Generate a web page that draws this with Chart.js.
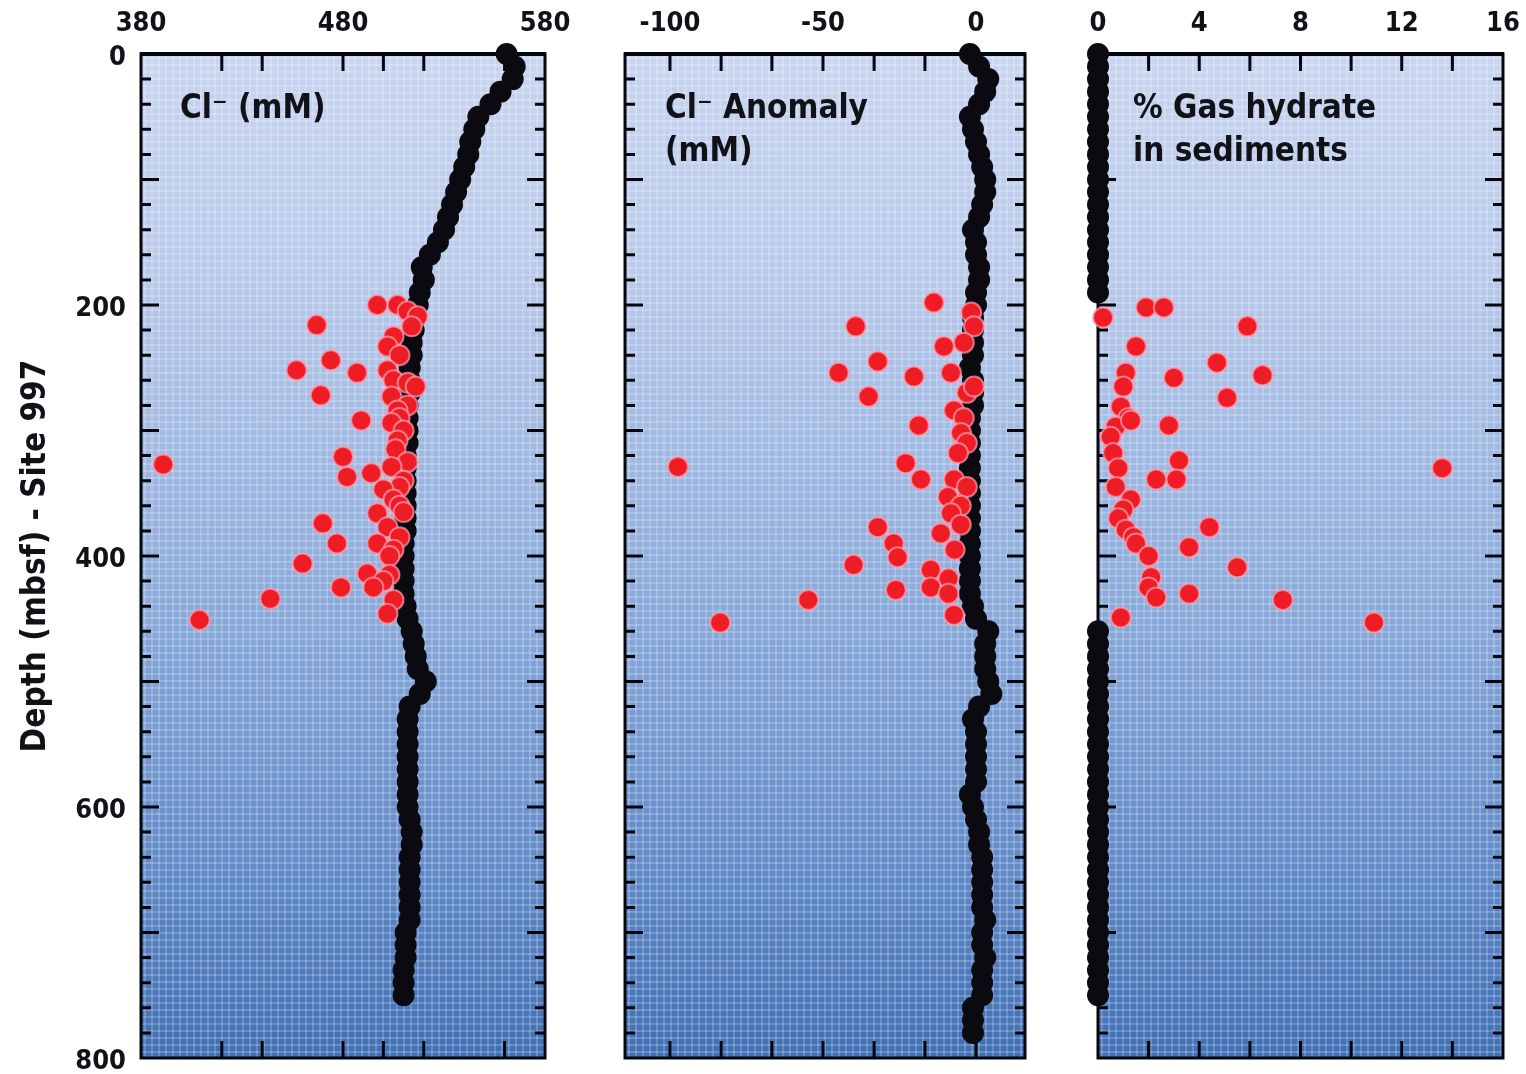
<!DOCTYPE html>
<html>
<head>
<meta charset="utf-8">
<script src="https://cdn.jsdelivr.net/npm/chart.js@4.4.1/dist/chart.umd.min.js"></script>
<style>
  html, body { margin: 0; padding: 0; background: #fff; }
  .panel { position: absolute; left: 0; top: 0; }
</style>
</head>
<body>
<canvas id="chlorideChart" class="panel" width="1526" height="1074"></canvas>
<canvas id="anomalyChart" class="panel" width="1526" height="1074"></canvas>
<canvas id="hydrateChart" class="panel" width="1526" height="1074"></canvas>
<script>
// pore water profile, one sample every 10 m
const profileDepths = [0, 10, 20, 30, 40, 50, 60, 70, 80, 90,
    100, 110, 120, 130, 140, 150, 160, 170, 180, 190,
    200, 210, 220, 230, 240, 250, 260, 270, 280, 290,
    300, 310, 320, 330, 340, 350, 360, 370, 380, 390,
    400, 410, 420, 430, 440, 450, 460, 470, 480, 490,
    500, 510, 520, 530, 540, 550, 560, 570, 580, 590,
    600, 610, 620, 630, 640, 650, 660, 670, 680, 690,
    700, 710, 720, 730, 740, 750, 760, 770, 780];

const chlorideValues = [561, 565, 564, 558, 553, 547, 545, 543, 542, 540,
    538, 536, 534, 532, 530, 527, 523, 519, 520, 518,
    517, 516, 515, 514, 514, 513, 513, 513, 512, 512,
    512, 512, 511, 511, 511, 511, 511, 511, 511, 510,
    510, 510, 510, 510, 511, 512, 514, 515, 516, 517,
    521, 518, 513, 512, 512, 512, 512, 512, 512, 512,
    512, 513, 514, 514, 513, 513, 513, 513, 513, 513,
    511, 511, 511, 510, 510, 510, null, null, null];

const anomalyValues = [-2, 1, 4, 3, 1, -2, -1, 0, 1, 2,
    3, 3, 2, 1, -1, 0, 0, 1, 1, 0,
    0, -1, -1, -1, -1, -2, -1, -1, -1, -2,
    -2, -2, -2, -2, -2, -2, -2, -2, -2, -2,
    -2, -2, -2, -2, -1, 0, 4, 3, 3, 3,
    4, 5, 1, -1, 0, 0, 0, 0, 0, -2,
    -1, 0, 1, 1, 2, 2, 2, 2, 2, 3,
    2, 2, 3, 2, 2, 2, -1, -1, -1];

const hydrateValues = [0, 0, 0, 0, 0, 0, 0, 0, 0, 0,
    0, 0, 0, 0, 0, 0, 0, 0, 0, 0,
    null, null, null, null, null, null, null, null, null, null,
    null, null, null, null, null, null, null, null, null, null,
    null, null, null, null, null, null, 0, 0, 0, 0,
    0, 0, 0, 0, 0, 0, 0, 0, 0, 0,
    0, 0, 0, 0, 0, 0, 0, 0, 0, 0,
    0, 0, 0, 0, 0, 0, null, null, null];

// hydrate zone samples (red)
const chlorideRedDepths = [200, 200, 205, 209, 216, 217, 225, 233, 240, 244, 252, 254, 252, 260, 262, 265, 272, 273,
    280, 284, 290, 292, 294, 300, 308, 315, 327, 321, 325, 337, 334, 329, 340, 345, 347, 355, 360, 365, 366,
    377, 374, 385, 390, 390, 395, 400, 406, 414, 415, 420, 425, 425, 434, 435, 446, 451];
const chlorideRedValues = [497, 507, 512, 517, 467, 514, 505, 502, 508, 474, 457, 487, 502, 505, 512, 516, 469, 504,
    512, 507, 508, 489, 504, 510, 507, 506, 391, 480, 512, 482, 494, 504, 510, 508, 500, 505, 508, 510, 497,
    502, 470, 508, 477, 497, 505, 503, 460, 492, 503, 500, 479, 495, 444, 505, 502, 409];

const anomalyRedDepths = [198, 206, 217, 217, 230, 233, 245, 254, 257, 254, 270, 273, 265, 284, 290, 296, 302, 310, 318,
    329, 326, 339, 339, 345, 353, 360, 366, 375, 377, 390, 382, 395, 401, 407, 411, 418, 425, 427, 430, 435, 447, 453];
const anomalyRedValues = [-13.8, -1.6, -0.7, -39.3, -4, -10.5, -32.1, -44.9, -20.3, -8.2, -3, -35.1, -0.7, -7.2, -4, -18.7, -4.9, -3, -5.9,
    -97.4, -23, -18, -7.2, -3, -9.2, -5, -8.2, -5, -32.1, -26.9, -11.5, -7, -25.6, -40, -14.8, -9, -14.8, -26.2, -9, -54.8, -7.2, -83.6];

const hydrateRedDepths = [210, 202, 202, 217, 233, 246, 256, 254, 258, 265, 274, 281, 290, 297, 296, 292, 305, 318, 324,
    330, 330, 339, 339, 345, 355, 363, 370, 379, 377, 385, 393, 390, 400, 409, 417, 425, 433, 430, 435, 449, 453];
const hydrateRedValues = [0.2, 1.9, 2.6, 5.9, 1.5, 4.7, 6.5, 1.1, 3.0, 1.0, 5.1, 0.9, 1.2, 0.7, 2.8, 1.3, 0.5, 0.6, 3.2,
    13.6, 0.8, 2.3, 3.1, 0.7, 1.3, 1.0, 0.8, 1.1, 4.4, 1.4, 3.6, 1.5, 2.0, 5.5, 2.1, 2.0, 2.3, 3.6, 7.3, 0.9, 10.9];

// axes
const depthLabels = [0, 200, 400, 600, 800];
const depthMinorTicks = [20, 40, 60, 80, 100, 120, 140, 160, 180, 200, 220, 240, 260, 280, 300, 320, 340, 360, 380,
    400, 420, 440, 460, 480, 500, 520, 540, 560, 580, 600, 620, 640, 660, 680, 700, 720, 740, 760, 780];
const chlorideLabels = [380, 480, 580];
const chlorideMinorTicks = [420, 440, 480, 500, 520, 560];
const anomalyLabels = [-100, -50, 0];
const anomalyMinorTicks = [-100, -83.3, -66.7, -50, -33.3, -16.7, 0];
const hydrateLabels = [0, 4, 8, 12, 16];
const hydrateMinorTicks = [2, 4, 6, 8, 10, 12, 14];

const textColor = '#111118';
const fontFamily = '"DejaVu Sans Condensed", "DejaVu Sans", sans-serif';
const tickFont = { family: fontFamily, size: 27, weight: 'bold' };

const panelDecor = {
    id: 'panelDecor',
    beforeDraw(chart) {
        const { ctx, chartArea: a } = chart;
        ctx.save();
        const g = ctx.createLinearGradient(0, a.top, 0, a.bottom);
        g.addColorStop(0, '#c8d5f0');
        g.addColorStop(0.22, '#b8c9ea');
        g.addColorStop(0.5, '#91afdd');
        g.addColorStop(0.78, '#668ecb');
        g.addColorStop(1, '#3f6fb4');
        ctx.fillStyle = g;
        ctx.fillRect(a.left, a.top, a.right - a.left, a.bottom - a.top);
        // halftone screen of the printed original
        ctx.fillStyle = 'rgba(255,255,255,0.2)';
        for (let x = a.left + 3; x < a.right; x += 7) ctx.fillRect(x, a.top, 2, a.bottom - a.top);
        for (let y = a.top + 3; y < a.bottom; y += 7) ctx.fillRect(a.left, y, a.right - a.left, 2);
        ctx.restore();
    },
    beforeDatasetsDraw(chart, args, opts) {
        const { ctx, chartArea: a } = chart;
        const xs = chart.scales.x, ys = chart.scales.y;
        ctx.save();
        ctx.strokeStyle = '#05060c';
        ctx.lineWidth = 3;
        ctx.beginPath();
        opts.xTicks.forEach((v) => {
            const px = xs.getPixelForValue(v);
            ctx.moveTo(px, a.top); ctx.lineTo(px, a.top + 17);
            ctx.moveTo(px, a.bottom); ctx.lineTo(px, a.bottom - 17);
        });
        depthMinorTicks.forEach((d) => {
            const py = ys.getPixelForValue(d);
            const len = d % 100 === 0 ? 18 : 10;
            ctx.moveTo(a.left, py); ctx.lineTo(a.left + len, py);
            ctx.moveTo(a.right, py); ctx.lineTo(a.right - len, py);
        });
        ctx.stroke();
        ctx.strokeRect(a.left, a.top, a.right - a.left, a.bottom - a.top);
        ctx.lineWidth = 4;
        ctx.beginPath();
        ctx.moveTo(a.left - 1, a.top); ctx.lineTo(a.right + 1, a.top);
        ctx.stroke();

        ctx.fillStyle = textColor;
        ctx.font = 'bold 33px ' + fontFamily;
        ctx.textBaseline = 'alphabetic';
        opts.title.forEach((line, i) => {
            ctx.fillText(line, a.left + opts.titleX, a.top + 64 + i * 43);
        });
        ctx.restore();
    }
};

function buildPoints(depths, values) {
    return depths.map((d, i) => ({ x: values[i], y: d })).filter((p) => p.x !== null);
}

function makePanel(canvasId, cfg) {
    const yAxis = {
        type: 'linear',
        reverse: true,
        min: 0,
        max: 800,
        display: cfg.showDepth,
        afterBuildTicks: (s) => { s.ticks = depthLabels.map((v) => ({ value: v })); },
        afterFit: (s) => {
            if (cfg.showDepth) s.width = 141;
            s.paddingTop = 0;
            s.paddingBottom = 0;
        },
        grid: { display: false, drawTicks: false },
        border: { display: false },
        ticks: { font: tickFont, color: textColor, padding: 15, labelOffset: 4 },
        title: {
            display: cfg.showDepth,
            text: 'Depth (mbsf) - Site 997',
            font: { family: fontFamily, size: 33, weight: 'bold' },
            color: textColor,
            padding: { top: 17, bottom: 0 }
        }
    };

    return new Chart(document.getElementById(canvasId).getContext('2d'), {
        type: 'scatter',
        data: {
            datasets: [{
                data: buildPoints(cfg.redDepths, cfg.redValues),
                pointRadius: 10,
                backgroundColor: 'rgb(238,28,36)',
                borderColor: 'rgba(255,160,180,0.7)',
                borderWidth: 2,
                clip: false
            }, {
                data: buildPoints(profileDepths, cfg.blackValues),
                pointRadius: 11,
                backgroundColor: '#0a0a10',
                borderWidth: 0,
                clip: false
            }]
        },
        options: {
            responsive: false,
            animation: false,
            events: [],
            layout: { padding: cfg.padding },
            plugins: {
                legend: { display: false },
                tooltip: { enabled: false },
                panelDecor: { xTicks: cfg.minorTicks, title: cfg.title, titleX: cfg.titleX }
            },
            scales: {
                x: {
                    type: 'linear',
                    position: 'top',
                    min: cfg.min,
                    max: cfg.max,
                    afterBuildTicks: (s) => { s.ticks = cfg.labels.map((v) => ({ value: v })); },
                    afterFit: (s) => {
                        s.height = 54;
                        s.paddingLeft = 0;
                        s.paddingRight = 0;
                    },
                    grid: { display: false, drawTicks: false },
                    border: { display: false },
                    ticks: { font: tickFont, color: textColor, padding: 14 }
                },
                y: yAxis
            }
        },
        plugins: [panelDecor]
    });
}

makePanel('chlorideChart', {
    showDepth: true,
    min: 380, max: 580,
    labels: chlorideLabels, minorTicks: chlorideMinorTicks,
    blackValues: chlorideValues,
    redDepths: chlorideRedDepths, redValues: chlorideRedValues,
    title: ['Cl\u207B (mM)'], titleX: 39,
    padding: { left: 0, top: 0, right: 981, bottom: 16 }
});

makePanel('anomalyChart', {
    showDepth: false,
    min: -114.7, max: 16,
    labels: anomalyLabels, minorTicks: anomalyMinorTicks,
    blackValues: anomalyValues,
    redDepths: anomalyRedDepths, redValues: anomalyRedValues,
    title: ['Cl\u207B Anomaly', '(mM)'], titleX: 40,
    padding: { left: 625, top: 0, right: 501, bottom: 16 }
});

makePanel('hydrateChart', {
    showDepth: false,
    min: 0, max: 16,
    labels: hydrateLabels, minorTicks: hydrateMinorTicks,
    blackValues: hydrateValues,
    redDepths: hydrateRedDepths, redValues: hydrateRedValues,
    title: ['% Gas hydrate', 'in sediments'], titleX: 35,
    padding: { left: 1098, top: 0, right: 23, bottom: 16 }
});
</script>
</body>
</html>
